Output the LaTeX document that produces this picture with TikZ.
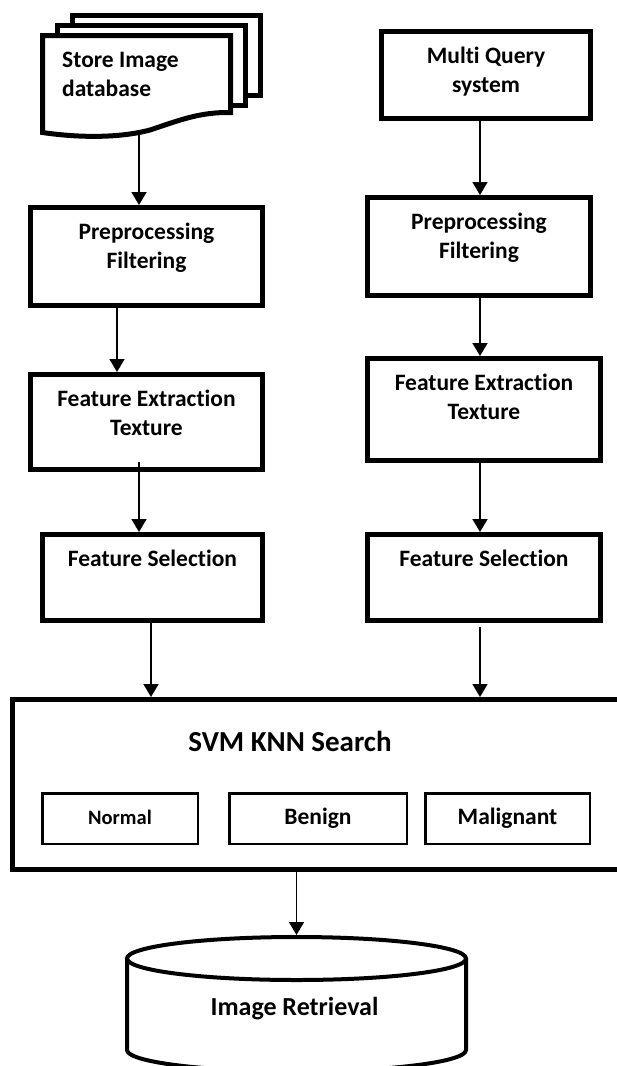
\documentclass[tikz,border=0pt]{standalone}
\usepackage{fontspec}
\setmainfont{Carlito}[Ligatures=NoCommon]
\usetikzlibrary{arrows.meta, positioning, calc}

\begin{document}
\begin{tikzpicture}[%
    x=1pt, y=-1pt,                          % work in image pixels, y downwards
    >={Triangle[length=13pt,width=15pt]},   % big solid heads
    ]

\tikzset{
  box/.style={draw, line width=5pt, inner sep=0},
  boxtxt/.style={font=\bfseries\fontsize{23.5}{29}\selectfont, align=center, inner sep=0},
  cls/.style={draw, line width=2.5pt, inner sep=0, minimum height=50.5pt,
              font=\bfseries\fontsize{23.5}{29}\selectfont},
  flow/.style={->, line width=1.6pt},
  sheet/.style={draw, line width=5pt, fill=white}
  };

\useasboundingbox (0,0) rectangle (617,1066);

% STORE Image database (stack of documents)
\draw[sheet] (72.5,15.5) rectangle (260.5,95.5);
\draw[sheet] (57.5,25.5) rectangle (245.5,105.5);
\draw[sheet] (42.5,35.5) -- (230.5,35.5) -- (230.5,112.5)
    .. controls (200,112) and (180,120) .. (150,130)
    .. controls (120,138) and (80,138) .. (42.5,132.5) -- cycle;
\node[boxtxt, align=left, anchor=north west] (storeDB) at (62,52) {Store Image\\database};
\coordinate (storeBot) at (139,135);

% LEFT column
\node[box, minimum width=232pt, minimum height=98pt] (preprocL) at (146.5,256.5) {};
\node[boxtxt, below=18pt of preprocL.north] (preprocLtxt) {Preprocessing\\Filtering};

\node[box, minimum width=232pt, minimum height=95pt] (featExtL) at (146.5,422) {};
\node[boxtxt, below=18pt of featExtL.north] (featExtLtxt) {Feature Extraction\\Texture};

\node[box, minimum width=220pt, minimum height=86pt] (featSelL) at (152.5,577.5) {};
\node[boxtxt, below=18pt of featSelL.north] (featSelLtxt) {Feature Selection};

% RIGHT column
\node[box, minimum width=209pt, minimum height=87pt] (multiQuery) at (486,75) {};
\node[boxtxt, below=18pt of multiQuery.north] (multiQueryTxt) {Multi Query\\system};

\node[box, minimum width=223pt, minimum height=98pt] (preprocR) at (479,246.5) {};
\node[boxtxt, below=18pt of preprocR.north] (preprocRtxt) {Preprocessing\\Filtering};

\node[box, minimum width=233pt, minimum height=102pt] (featExtR) at (484,409.5) {};
\node[boxtxt, below=18pt of featExtR.north] (featExtRtxt) {Feature Extraction\\Texture};

\node[box, minimum width=233pt, minimum height=86pt] (featSelR) at (484,577.5) {};
\node[boxtxt, below=18pt of featSelR.north] (featSelRtxt) {Feature Selection};

% SVM KNN block
\node[box, minimum width=610pt, minimum height=170pt] (svmKnn) at (317.5,784.5) {};
\node[font=\bfseries\fontsize{29}{35}\selectfont, inner sep=0, anchor=base] (svmTxt) at (290,751) {SVM KNN Search};

\node[cls, minimum width=155.5pt, font=\bfseries\fontsize{20.5}{25}\selectfont] (normal) at (120,818.5) {\raisebox{2.5pt}{Normal}};
\node[cls, minimum width=177.5pt] (benign) at (318,818.5) {Benign};
\node[cls, minimum width=164.5pt] (malignant) at (507.5,818.5) {Malignant};

% Image Retrieval (cylinder)
\draw[line width=4pt] (127,958.5) -- (127,1050)
    arc[start angle=180, end angle=360, x radius=169.5pt, y radius=21.5pt] -- (466,958.5);
\draw[line width=4pt, fill=white] (296.5,958.5) ellipse [x radius=169.5pt, y radius=21.5pt];
\coordinate (retrTop) at (296.5,935);
\node[font=\bfseries\fontsize{26}{31}\selectfont, inner sep=0, anchor=base] (imgRetrieval) at (294.5,1015) {Image Retrieval};

% arrows, left
\draw[flow] (storeBot) -- (storeBot |- preprocL.north);
\draw[flow] ([xshift=-29.5pt]preprocL.south) -- ([xshift=-29.5pt]preprocL.south |- featExtL.north);
\draw[flow] ([xshift=-7.5pt,yshift=10pt]featExtL.south) -- ([xshift=-7.5pt]featExtL.south |- featSelL.north);
\draw[flow] ([xshift=-1.5pt]featSelL.south) -- ([xshift=-1.5pt]featSelL.south |- svmKnn.north);

% arrows, right
\draw[flow] ([xshift=-6pt]multiQuery.south) -- ([xshift=-6pt]multiQuery.south |- preprocR.north);
\draw[flow] ([xshift=1pt]preprocR.south) -- ([xshift=1pt]preprocR.south |- featExtR.north);
\draw[flow] ([xshift=-4pt]featExtR.south) -- ([xshift=-4pt]featExtR.south |- featSelR.north);
\draw[flow] ([xshift=-4pt,yshift=-4pt]featSelR.south) -- ([xshift=-4pt]featSelR.south |- svmKnn.north);

% to retrieval
\draw[flow] (svmKnn.south -| retrTop) -- (retrTop);

\end{tikzpicture}
\end{document}
